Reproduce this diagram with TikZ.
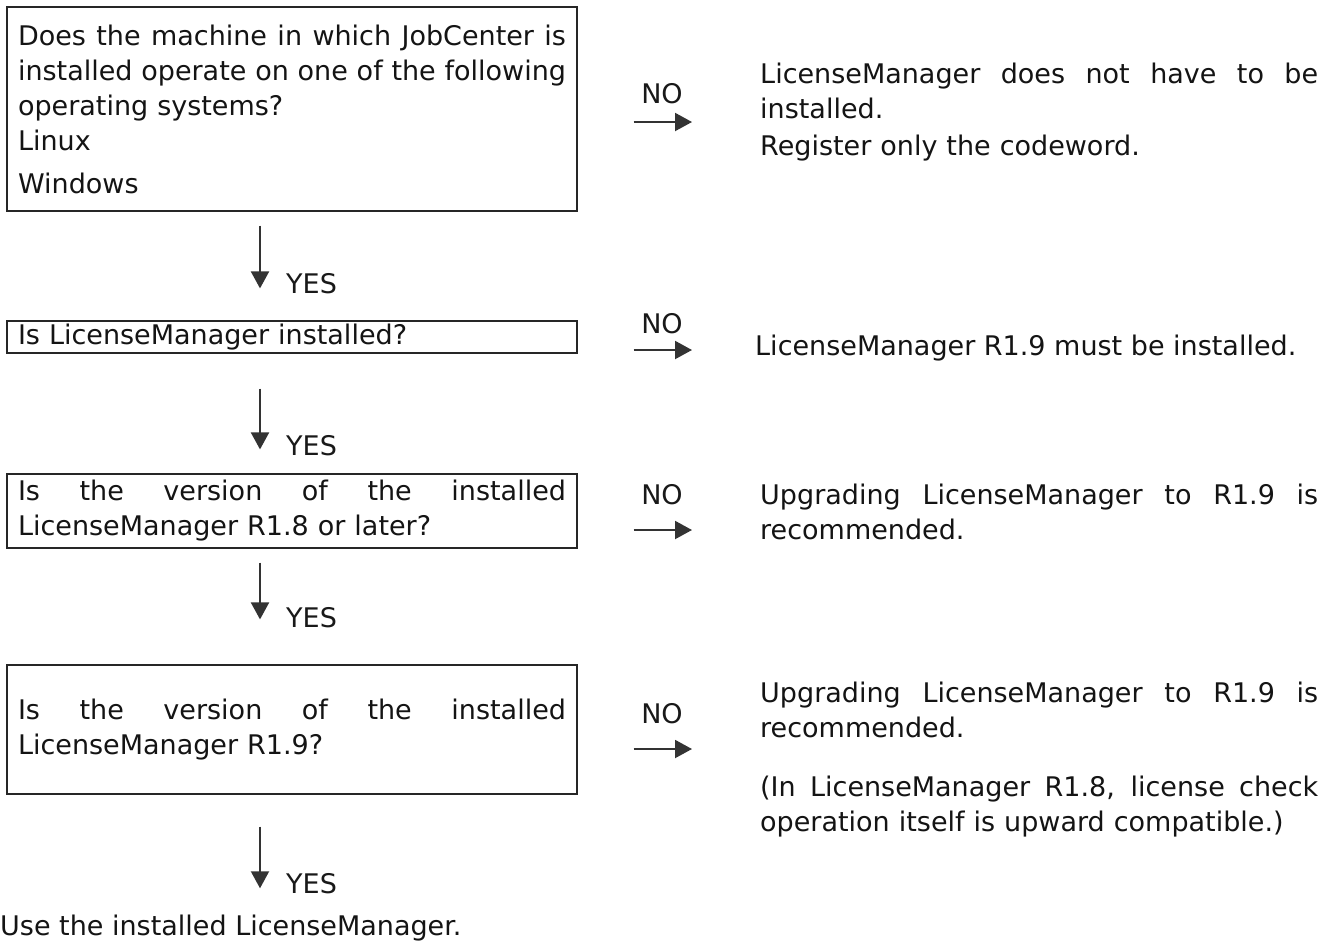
\documentclass[tikz,border=0pt]{standalone}
\usepackage{fontspec}
\setmainfont{DejaVu Sans}
\usetikzlibrary{arrows.meta}
\newcommand{\jl}[1]{\makebox[548pt][s]{\spaceskip=0pt\relax\xspaceskip=0pt\relax #1}}
\newcommand{\jr}[1]{\makebox[558pt][s]{\spaceskip=0pt\relax\xspaceskip=0pt\relax #1}}
\begin{document}
\begin{tikzpicture}[x=1pt,y=-1pt,
  every node/.style={font=\fontsize{27}{35}\selectfont, inner sep=0pt, text=black!92},
  qbox/.style={draw=black!85, line width=1.2pt, minimum width=570pt, text width=548pt, align=left, inner xsep=11pt},
  rtext/.style={anchor=base west, text width=558pt, align=left},
  lbl/.style={text=black!90},
  downarrow/.style={draw=black!80, line width=2pt, -{Triangle[length=17pt,width=18pt]}},
  rightarrow/.style={draw=black!80, line width=2pt, -{Triangle[length=17pt,width=18pt]}}]
\fill[white] (0,0) rectangle (1335,946);
\useasboundingbox (0,0) rectangle (1335,946);

% question boxes
\node[qbox, minimum height=204pt] (b1) at (292,109)
  {\jl{Does the machine in which JobCenter is}\\ \jl{installed operate on one of the following}\\ operating systems?\\ Linux\\[8pt] Windows};
\node[qbox, minimum height=32pt] (b2) at (292,337) {Is LicenseManager installed?};
\node[qbox, minimum height=74pt] (b3) at (292,511)
  {\jl{Is the version of the installed}\\ LicenseManager R1.8 or later?};
\node[qbox, minimum height=129pt] (b4) at (292,729.5)
  {\jl{Is the version of the installed}\\ LicenseManager R1.9?};

% right-hand texts
\node[rtext] (t1) at (760,83)
  {\jr{LicenseManager does not have to be}\\ installed.\\[2pt] Register only the codeword.};
\node[anchor=base west] (t2) at (755,355) {LicenseManager R1.9 must be installed.};
\node[rtext] (t3) at (760,504)
  {\jr{Upgrading LicenseManager to R1.9 is}\\ recommended.};
\node[rtext] (t4) at (760,702)
  {\jr{Upgrading LicenseManager to R1.9 is}\\ recommended.\\[24pt] \jr{(In LicenseManager R1.8, license check}\\ operation itself is upward compatible.)};

% final text
\node[anchor=base west] (u) at (0,935) {Use the installed LicenseManager.};

% YES arrows
\draw[downarrow, shorten <=14pt, shorten >=32pt] ([xshift=-32pt]b1.south) -- ([xshift=-32pt]b2.north);
\draw[downarrow, shorten <=35pt, shorten >=24pt] ([xshift=-32pt]b2.south) -- ([xshift=-32pt]b3.north);
\draw[downarrow, shorten <=14pt, shorten >=45pt] ([xshift=-32pt]b3.south) -- ([xshift=-32pt]b4.north);
\draw[downarrow, shorten <=32pt, shorten >=26pt] ([xshift=-32pt]b4.south) -- ([xshift=-32pt]b4.south |- u.north);
\node[lbl, anchor=base west] (y1) at (286,293) {YES};
\node[lbl, anchor=base west] (y2) at (286,455) {YES};
\node[lbl, anchor=base west] (y3) at (286,627) {YES};
\node[lbl, anchor=base west] (y4) at (286,893) {YES};

% NO arrows
\coordinate (h1) at (0,122);
\coordinate (h2) at (0,350);
\coordinate (h3) at (0,530);
\coordinate (h4) at (0,749);
\draw[rightarrow, shorten <=56pt, shorten >=68pt] (b1.east |- h1) -- (t1.west |- h1);
\draw[rightarrow, shorten <=56pt, shorten >=63pt] (b2.east |- h2) -- (t2.west |- h2);
\draw[rightarrow, shorten <=56pt, shorten >=68pt] (b3.east |- h3) -- (t3.west |- h3);
\draw[rightarrow, shorten <=56pt, shorten >=68pt] (b4.east |- h4) -- (t4.west |- h4);
\node[lbl, anchor=base] (n1) at (662,103) {NO};
\node[lbl, anchor=base] (n2) at (662,333) {NO};
\node[lbl, anchor=base] (n3) at (662,504) {NO};
\node[lbl, anchor=base] (n4) at (662,723) {NO};
\end{tikzpicture}
\end{document}
